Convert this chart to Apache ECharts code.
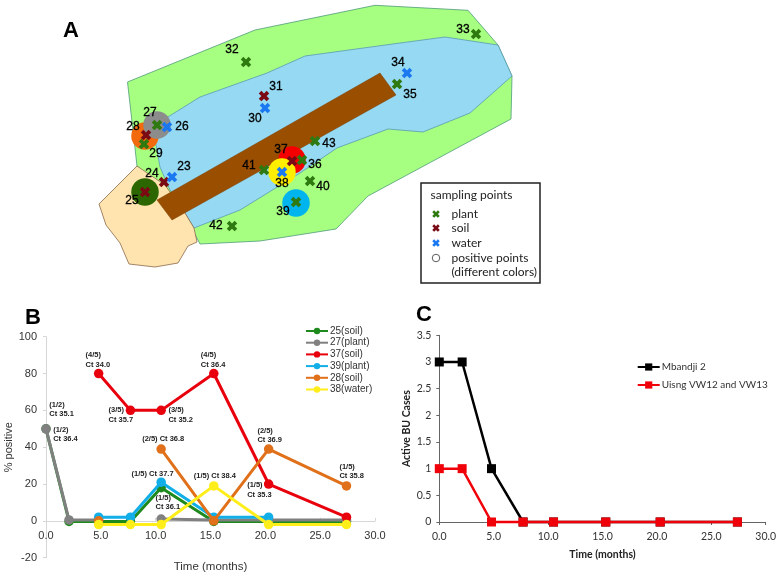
<!DOCTYPE html>
<html><head><meta charset="utf-8">
<style>html,body{margin:0;padding:0;background:#fff}#c{width:780px;height:577px}</style>
<script src="https://cdn.jsdelivr.net/npm/echarts@6/dist/echarts.min.js"></script>
</head><body><div id="c"></div>
<script>
// ---- Panel A: map regions (image-space units)
const plantZone = [[127.5,82],[255,30],[375,5.3],[468,10.3],[498,45],[512,76],[511,119],[368,196],[336,229],[260,241],[200,244],[190,225],[165,190],[137,166]];
const lakeZone = [[157,124],[163,120],[200,97],[267,73],[305,56],[400,43],[445,37],[498,45],[512,76],[470,113],[423,132],[388,129],[337,148],[300,173],[240,210],[194,228],[185,213],[170,190],[160,167],[155,140]];
const landZone = [[137,166],[165,185],[185,213],[194,228],[197,242],[188,246],[178,263],[155,267],[129,264],[120,243],[106,225],[99,204]];
const dikeZone = [[157,200],[380,73],[396,95],[172,220]];
const legendBox = [[421,183],[540,183],[540,283],[421,283]];

const pointIds  = [23,24,25,26,27,28,29,30,31,32,33,34,35,36,37,38,39,40,41,42,43];
const pointType = ['water','soil','soil','water','plant','soil','plant','water','soil','plant','plant','water','plant','plant','soil','water','plant','plant','plant','plant','plant'];
const pointX = [172,164,145,167,157,146,144,265,264,246,476,407,397,302,292,282,296,310,264,232,315];
const pointY = [177,182,192,127,125,135,144,108,96,62,34,73,84,160,161,172,202,181,170,226,141];
const labelX = [184,152,132,182,150,133,156,255,276,232,463,398,410,315,281,282,283,323,249,216,329];
const labelY = [167,174,201,127,113,127,154,119,87,50,30,63,95,165,150,184,212,187,166,226,144];

const positiveX = [145,145,157,292,282,296];
const positiveY = [192,136,125,160,172,203];
const positiveColor = ['#2b6600','#f26a0d','#8c8c8c','#f50000','#ffee00','#00b4ee'];

const legendRows = ['sampling points','plant','soil','water','positive points','(different colors)'];
const legendRowX = [430,451,451,451,451,451];
const legendRowY = [195,214,228,243,258,272];
const legendMarkX = [436,436,436];
const legendMarkY = [214,228,243];
const legendMarkType = ['plant','soil','water'];
const typeColor = {plant:'#2f7a10',soil:'#7a0a14',water:'#1a78f0'};
const panelLetters = ['A','B','C'];
const panelX = [71,33,424];
const panelY = [31,318,315];

// ---- Panel B
const months = [0,2.1,4.8,7.7,10.5,15.3,20.3,27.4];
const soil25  = [50,-0.3,-0.3,-0.3,18,-0.3,-0.3,-0.3];
const plant27 = [50,0.5,0.5,null,1,0.5,0.5,0.5];
const soil37  = [null,null,80,60,60,80,20,2];
const plant39 = [null,null,2,2,21,2,2,null];
const soil28  = [null,null,0,null,39,0,39,19];
const water38 = [null,null,-2,-2,-2,19,-2,-2];
const bNames = ['25(soil)','27(plant)','37(soil)','39(plant)','28(soil)','38(water)'];
const bColors = ['#1e8a1e','#808080','#e8000d','#12aee8','#e0701a','#ffee1a'];
const noteText = ['(1/2)\nCt 35.1','(1/2)\nCt 36.4','(4/5)\nCt 34.0','(3/5)\nCt 35.7','(3/5)\nCt 35.2','(2/5) Ct 36.8','(1/5) Ct 37.7','(1/5)\nCt 36.1','(4/5)\nCt 36.4','(1/5) Ct 38.4','(2/5)\nCt 36.9','(1/5)\nCt 35.3','(1/5)\nCt 35.8'];
const noteX = [0.25,0.61,3.56,5.65,11.12,8.72,7.75,9.94,14.07,13.43,19.23,18.3,26.71];
const noteY = [60.4,46.8,87.5,57.4,57.4,44.5,25.7,9.9,87.5,24.4,46.3,16.8,26.8];

// ---- Panel C
const mbandji = [3,3,1,0,0,0,0,0];
const uisng   = [1,1,0,0,0,0,0,0];
const cNames = ['Mbandji 2','Uisng VW12 and VW13'];

const crossPath = 'path://M2.5,0 L5,2.5 L7.5,0 L10,2.5 L7.5,5 L10,7.5 L7.5,10 L5,7.5 L2.5,10 L0,7.5 L2.5,5 L0,2.5 Z';
const zip = (xs,ys)=>xs.map((x,i)=>[x,ys[i]]);
const mapAxes = {xAxisIndex:0,yAxisIndex:0,silent:true,animation:false};

function region(pts,fill,stroke,w,z){
  return Object.assign({type:'custom',z:z,clip:false,coordinateSystem:'cartesian2d',data:[[0,0]],
    renderItem:(p,api)=>({type:'polygon',shape:{points:pts.map(q=>api.coord(q))},
      style:{fill:fill,stroke:stroke,lineWidth:w}})},mapAxes);
}
function crosses(type,z){
  const d=[];
  pointType.forEach((t,i)=>{if(t===type)d.push([pointX[i],pointY[i]]);});
  return Object.assign({type:'scatter',z:z,symbol:crossPath,symbolSize:10.5,itemStyle:{color:typeColor[type],opacity:1},data:d},mapAxes);
}
function textLayer(xs,ys,texts,font,pos,z,extra){
  return Object.assign({type:'scatter',z:z,symbolSize:1,itemStyle:{color:'rgba(0,0,0,0)',opacity:1},clip:false,
    data:xs.map((x,i)=>({value:[x,ys[i]],label:{formatter:String(texts[i])}})),
    label:Object.assign({show:true,position:pos,distance:0,color:'#000',fontFamily:'Liberation Sans'},font)},extra||mapAxes);
}
const series = [
  region(plantZone,'#a6ff80','#4f9a7a',0.8,1),
  region(lakeZone,'#96d9f2','#5a9ab0',0.8,2),
  region(landZone,'#ffe4b0','#8a6a4a',0.8,3),
  region(dikeZone,'#994e00','#7a3e00',0.5,4),
  Object.assign({type:'scatter',z:5,symbol:'circle',symbolSize:27.5,itemStyle:{opacity:1,color:p=>positiveColor[p.dataIndex]},data:zip(positiveX,positiveY)},mapAxes),
  crosses('plant',6),crosses('soil',7),crosses('water',8),
  textLayer(labelX,labelY,pointIds,{fontSize:12,textBorderColor:'#000',textBorderWidth:0.3},'inside',9),
  region(legendBox,'#fff','#222',1.5,3),
  Object.assign({type:'scatter',z:9,symbol:crossPath,symbolSize:7.5,itemStyle:{opacity:1,color:p=>typeColor[legendMarkType[p.dataIndex]]},data:zip(legendMarkX,legendMarkY)},mapAxes),
  Object.assign({type:'scatter',z:9,symbol:'circle',symbolSize:7.5,itemStyle:{color:'#fff',borderColor:'#333',borderWidth:0.8,opacity:1},data:[[436,258]]},mapAxes),
  textLayer(legendRowX,legendRowY,legendRows,{fontSize:12,fontFamily:'Lato',color:'#222'},'right',9),
  textLayer(panelX,panelY,panelLetters,{fontSize:22,fontWeight:'bold',fontFamily:'Liberation Sans'},'inside',9),
];
[soil25,plant27,soil37,plant39,soil28,water38].forEach((v,i)=>{
  series.push({type:'line',name:bNames[i],xAxisIndex:1,yAxisIndex:1,z:10+i,clip:false,silent:true,animation:false,
    data:zip(months,v),symbol:'circle',symbolSize:9.5,lineStyle:{width:3,color:bColors[i]},itemStyle:{color:bColors[i]}});
});
series.push(textLayer(noteX,noteY,noteText,{fontSize:7.5,fontWeight:'bold',color:'#222',lineHeight:9.5},'right',20,{xAxisIndex:1,yAxisIndex:1,silent:true,animation:false}));
[mbandji,uisng].forEach((v,i)=>{
  const col=i?'#f00008':'#000';
  series.push({type:'line',name:cNames[i],xAxisIndex:2,yAxisIndex:2,z:10+i,clip:false,silent:true,animation:false,
    data:zip(months,v),symbol:'rect',symbolSize:9,lineStyle:{width:2.5,color:col},itemStyle:{color:col}});
});
const hidden={show:false};
const bAxisLine={show:true,lineStyle:{color:'#d6d6d6',width:1}};
const cAxisLine={show:true,lineStyle:{color:'#666',width:1}};
const option={
  animation:false,backgroundColor:'#fff',
  grid:[
    {left:0,top:0,width:780,height:577,outerBoundsMode:'none'},
    {left:46,top:336.7,width:329,height:221,outerBoundsMode:'none'},
    {left:439.3,top:335.3,width:326.4,height:186.7,outerBoundsMode:'none'}
  ],
  xAxis:[
    {gridIndex:0,type:'value',min:0,max:780,show:false},
    {gridIndex:1,type:'value',min:0,max:30,interval:5,axisLine:Object.assign({onZero:true},bAxisLine),
      axisTick:{show:true,inside:true,length:3,lineStyle:{color:'#d6d6d6'}},splitLine:hidden,
      axisLabel:{margin:-27,fontSize:11,color:'#333',fontFamily:'Liberation Sans',formatter:v=>v.toFixed(1)},
      name:'Time (months)',nameLocation:'middle',nameGap:3.5,nameTextStyle:{fontSize:11.5,color:'#333',fontFamily:'Liberation Sans'}},
    {gridIndex:2,type:'value',min:0,max:30,interval:5,axisLine:cAxisLine,
      axisTick:{show:true,length:3,lineStyle:{color:'#666'}},splitLine:hidden,
      axisLabel:{margin:9,fontSize:10.5,color:'#333',fontFamily:'Lato',formatter:v=>v.toFixed(1)},
      name:'Time (months)',nameLocation:'middle',nameGap:27,nameTextStyle:{fontSize:10.5,fontWeight:'bold',color:'#222',fontFamily:'Lato'}}
  ],
  yAxis:[
    {gridIndex:0,type:'value',min:0,max:577,inverse:true,show:false},
    {gridIndex:1,type:'value',min:-20,max:100,interval:20,axisLine:bAxisLine,
      axisTick:{show:true,length:3,lineStyle:{color:'#d6d6d6'}},splitLine:hidden,
      axisLabel:{margin:9,fontSize:11,color:'#333',fontFamily:'Liberation Sans'},
      name:'% positive',nameLocation:'middle',nameGap:28,nameTextStyle:{fontSize:11,color:'#333',fontFamily:'Liberation Sans'}},
    {gridIndex:2,type:'value',min:0,max:3.5,interval:0.5,axisLine:cAxisLine,
      axisTick:{show:true,length:3,lineStyle:{color:'#666'}},splitLine:hidden,
      axisLabel:{margin:8,fontSize:10.5,color:'#333',fontFamily:'Lato'},
      name:'Active BU Cases',nameLocation:'middle',nameGap:27,nameTextStyle:{fontSize:10.5,fontWeight:'bold',color:'#222',fontFamily:'Lato'}}
  ],
  legend:[
    {data:bNames,orient:'vertical',left:305,top:326,itemWidth:22,itemHeight:8,itemGap:1.7,padding:0,selectedMode:false,
      textStyle:{fontSize:10,lineHeight:10,color:'#333',fontFamily:'Liberation Sans',padding:[0,0,0,-3]}},
    {data:cNames,orient:'vertical',left:636.7,top:362,itemWidth:22,itemHeight:9,itemGap:8,padding:0,selectedMode:false,
      textStyle:{fontSize:10,lineHeight:10,color:'#333',fontFamily:'Lato',padding:[0,0,0,-3]}}
  ],
  series:series
};
echarts.init(document.getElementById('c'),null,{renderer:'canvas'}).setOption(option);
</script></body></html>
